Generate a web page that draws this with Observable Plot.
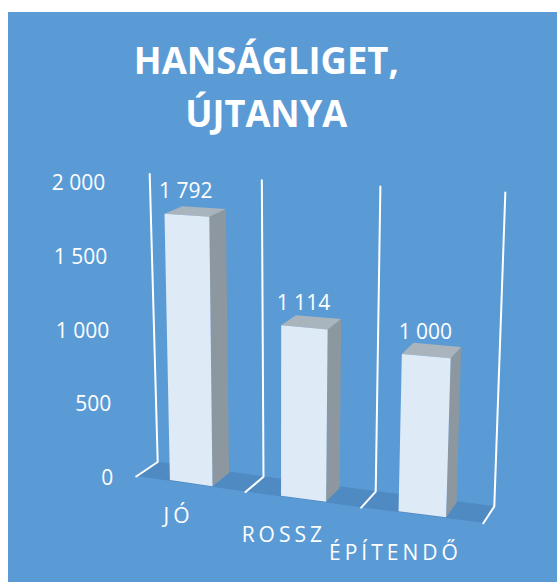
<!DOCTYPE html>
<html><head><meta charset="utf-8">
<script src="https://cdn.jsdelivr.net/npm/d3@7"></script>
<script src="https://cdn.jsdelivr.net/npm/@observablehq/plot@0.6"></script>
<style>
body{margin:0;background:#fff;}
#wrap{position:relative;width:557px;height:583px;overflow:hidden;}
#panel{position:absolute;left:8px;top:12px;width:549px;height:570px;background:#5B9BD5;}
#title{position:absolute;left:0;top:32.7px;width:532px;text-align:center;color:#fff;font:700 38px/53px "Open Sans";white-space:nowrap;}
#title span{display:inline-block;transform-origin:50% 50%;}
#chart{position:absolute;left:0;top:0;}
</style></head>
<body><div id="wrap"><div id="panel"></div><div id="chart"></div><div id="title"><span id="t1">HANSÁGLIGET,</span><br><span id="t2">ÚJTANYA</span></div></div>
<script>
const categories = ["JÓ", "ROSSZ", "ÉPÍTENDŐ"];
const values = [1792, 1114, 1000];
const yTicks = [0, 500, 1000, 1500, 2000];

const loc = d3.formatLocale({thousands: "\u00a0", grouping: [3], decimal: ",", currency: ["", ""]});
const fmt = v => loc.format(",")(v);

// simple empirical 3D (perspective-like) projection: category units, value, depth(0 front..1 back)
const X0 = 135.7, K = 116.7, Y0 = 476, KY = 0.1475;
function pix(xw, v, d) {
  const fx = 135.7 + 106.1 * xw + 3.2 * xw * xw;
  const fy = 476 + 15.6 * xw;
  const ddx = (21.5 - 3.5 * xw) * d, ddy = (-14.5 - 0.8 * xw) * d;
  const ky = 0.1475 + 0.0043 * xw - 0.0035 * d;
  const lean = -0.004 + 0.00317 * xw;
  return [fx + ddx + lean * v, fy + ddy - ky * v];
}
function toUnits(p) { return {x: (p[0] - X0) / K, y: (Y0 - p[1]) / KY}; }
function P(xw, v, d) { return toUnits(pix(xw, v, d)); }

// floor
const floorData = [0, 1, 2, 3].map(b => {
  const f = P(b, 0, 0), bk = P(b, 0, 1);
  return {x1: f.x, y1: f.y, x2: bk.x, y2: bk.y};
});
// gridlines (category boundaries)
const gridData = [];
[0, 1, 2, 3].forEach(b => {
  [[b, 0, 0], [b, 0, 1], [b, 2000, 1]].forEach(q => gridData.push({b, ...P(...q)}));
});
// bar faces
const bx0 = 0.31, bx1 = 0.70, bd0 = 0.05, bd1 = 0.92;
const frontFaces = [], sideFaces = [], topFaces = [];
values.forEach((v, i) => {
  const L = i + bx0, R = i + bx1;
  const LBf = P(L, 0, bd0), RBf = P(R, 0, bd0), LTf = P(L, v, bd0), RTf = P(R, v, bd0);
  const RBb = P(R, 0, bd1), RTb = P(R, v, bd1), LTb = P(L, v, bd1);
  frontFaces.push({id: i, x1: LBf.x, y1: LBf.y, x2: LTf.x, y2: LTf.y}, {id: i, x1: RBf.x, y1: RBf.y, x2: RTf.x, y2: RTf.y});
  sideFaces.push({id: i, x1: RBf.x, y1: RBf.y, x2: RTf.x, y2: RTf.y}, {id: i, x1: RBb.x, y1: RBb.y, x2: RTb.x, y2: RTb.y});
  topFaces.push({id: i, x1: LTf.x, y1: LTf.y, x2: LTb.x, y2: LTb.y}, {id: i, x1: RTf.x, y1: RTf.y, x2: RTb.x, y2: RTb.y});
});
const tickData = yTicks.map(t => ({...P(0, t, 0), label: fmt(t)}));
const valueData = values.map((v, i) => ({...P(i + 0.5, v, 0), label: fmt(v)}));
const catData = categories.map((c, i) => {
  const p = pix(i + 0.5, 0, 0);
  return {...toUnits([p[0] - 11.5 - 7.25 * i, p[1] + 32 + 3 * i]), label: c};
});

const chart = Plot.plot({
  width: 557, height: 583,
  x: {type: "linear", domain: [0, 3], range: [X0, X0 + 3 * K], axis: null},
  y: {type: "linear", domain: [0, 2000], range: [Y0, Y0 - 2000 * KY], axis: null},
  style: {background: "transparent", fontFamily: "Open Sans", overflow: "visible"},
  marks: [
    Plot.area(floorData, {x1: "x1", y1: "y1", x2: "x2", y2: "y2", fill: "#4F8AC3"}),
    Plot.line(gridData, {x: "x", y: "y", z: "b", stroke: "white", strokeWidth: 2}),
    Plot.area(sideFaces, {x1: "x1", y1: "y1", x2: "x2", y2: "y2", z: "id", fill: "#8D979F"}),
    Plot.area(topFaces, {x1: "x1", y1: "y1", x2: "x2", y2: "y2", z: "id", fill: "#AAB4BC"}),
    Plot.area(frontFaces, {x1: "x1", y1: "y1", x2: "x2", y2: "y2", z: "id", fill: "#DFEAF7"}),
    Plot.text(tickData, {x: "x", y: "y", text: "label", textAnchor: "end", dx: -23, dy: 2, fill: "white", fontSize: 21}),
    Plot.text(valueData, {x: "x", y: "y", text: "label", dy: -25, fill: "white", fontSize: 21}),
    Plot.text(catData, {x: "x", y: "y", text: "label", fill: "white", fontSize: 21})
  ]
});
d3.select(chart).selectAll("text")
  .filter(function() { return categories.includes(this.textContent); })
  .style("letter-spacing", "4px");
document.getElementById("chart").appendChild(chart);

function fitTitle() {
  [["t1", 265], ["t2", 162]].forEach(([id, w]) => {
    const el = document.getElementById(id);
    el.style.transform = "none";
    const cw = el.getBoundingClientRect().width;
    if (cw > 0) el.style.transform = `scaleX(${w / cw})`;
  });
}
fitTitle();
if (document.fonts) document.fonts.ready.then(fitTitle);
</script>
</body></html>
